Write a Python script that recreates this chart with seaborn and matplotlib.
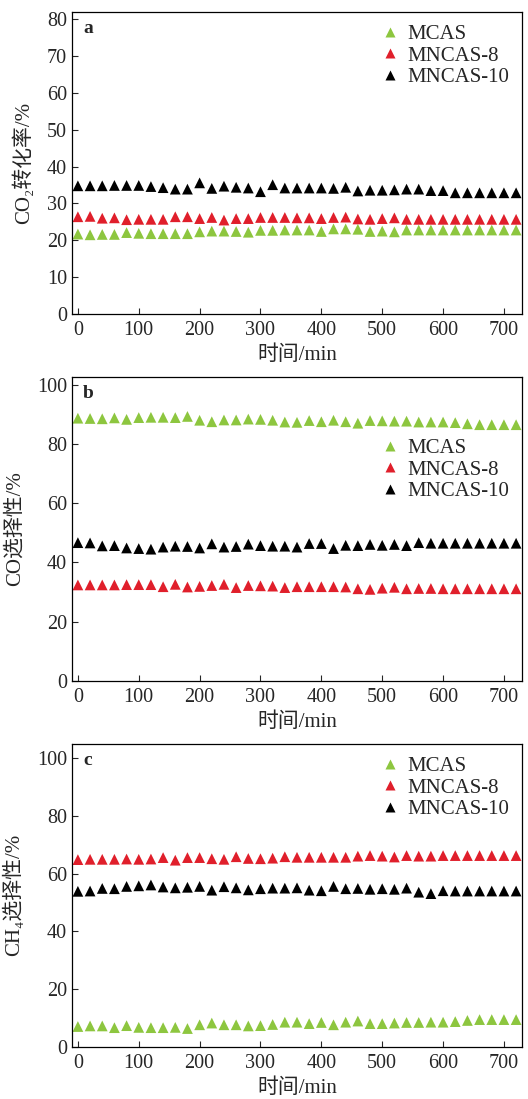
import numpy as np
import pandas as pd
import matplotlib
matplotlib.use("Agg")
import matplotlib.pyplot as plt
import seaborn as sns

# time axis (min)
time_min = list(range(0, 721, 20))

series_names = ["MCAS", "MNCAS-8", "MNCAS-10"]
palette = {"MCAS": "#8dc63f", "MNCAS-8": "#e01f2b", "MNCAS-10": "#000000"}

# (a) CO2 conversion /%
co2_mcas = [21.7, 21.5, 21.6, 21.6, 22.1, 21.9, 21.8, 21.8, 21.8, 21.8, 22.3, 22.5, 22.5,
            22.4, 22.2, 22.7, 22.7, 22.8, 22.8, 22.8, 22.4, 23.1, 23.1, 23.0, 22.4, 22.5,
            22.3, 22.8, 22.8, 22.8, 22.8, 22.8, 22.8, 22.8, 22.8, 22.8, 22.8]
co2_mncas8 = [26.4, 26.5, 26.0, 26.1, 25.6, 25.7, 25.7, 25.7, 26.4, 26.4, 25.9, 26.2, 25.5,
              25.9, 25.9, 26.2, 26.2, 26.2, 26.1, 26.1, 25.9, 26.2, 26.3, 25.8, 25.7, 25.9,
              26.1, 25.7, 25.7, 25.7, 25.7, 25.7, 25.7, 25.7, 25.7, 25.7, 25.7]
co2_mncas10 = [34.8, 34.8, 34.8, 34.9, 34.9, 34.9, 34.6, 34.3, 33.9, 33.9, 35.6, 34.1, 34.7,
               34.4, 34.2, 33.2, 35.1, 34.2, 34.2, 34.2, 34.2, 34.1, 34.4, 33.4, 33.6, 33.6,
               33.7, 33.9, 33.9, 33.5, 33.5, 32.9, 32.9, 32.9, 32.9, 32.9, 32.9]

# (b) CO selectivity /%
co_mcas = [88.8, 88.7, 88.6, 88.9, 88.4, 89.0, 89.1, 89.1, 89.0, 89.4, 88.1, 87.6, 88.2,
           88.2, 88.5, 88.4, 88.1, 87.5, 87.4, 88.0, 87.6, 88.1, 87.6, 87.1, 88.0, 87.9,
           87.8, 87.8, 87.5, 87.5, 87.5, 87.3, 86.9, 86.6, 86.6, 86.6, 86.6]
co_mncas8 = [32.4, 32.4, 32.4, 32.4, 32.5, 32.5, 32.5, 31.8, 32.6, 31.7, 31.9, 32.2, 32.6,
             31.5, 32.2, 32.1, 32.0, 31.5, 31.8, 31.8, 31.8, 31.8, 31.7, 31.1, 30.9, 31.3,
             31.6, 31.1, 31.2, 31.2, 31.1, 31.1, 31.1, 31.1, 31.1, 31.1, 31.1]
co_mncas10 = [46.7, 46.6, 45.6, 45.7, 44.9, 44.7, 44.5, 45.2, 45.5, 45.4, 44.9, 46.3, 45.2,
              45.4, 46.2, 45.7, 45.5, 45.5, 45.2, 46.4, 46.4, 44.7, 45.8, 45.7, 46.1, 45.8,
              46.1, 45.7, 46.7, 46.5, 46.5, 46.5, 46.5, 46.5, 46.5, 46.5, 46.5]

# (c) CH4 selectivity /%
ch4_mcas = [7.0, 7.2, 7.2, 6.6, 7.3, 6.7, 6.6, 6.6, 6.7, 6.3, 7.6, 8.2, 7.6,
            7.6, 7.2, 7.3, 7.7, 8.5, 8.5, 8.0, 8.4, 7.6, 8.5, 8.9, 8.0, 8.0,
            8.2, 8.4, 8.4, 8.5, 8.5, 8.7, 9.1, 9.4, 9.4, 9.4, 9.4]
ch4_mncas8 = [64.9, 65.0, 65.0, 65.0, 65.1, 65.0, 65.1, 65.6, 64.7, 65.6, 65.6, 65.2, 65.0,
              65.9, 65.3, 65.2, 65.4, 65.9, 65.7, 65.7, 65.7, 65.7, 65.7, 66.1, 66.3, 66.1,
              65.8, 66.3, 66.1, 66.1, 66.3, 66.3, 66.3, 66.3, 66.3, 66.3, 66.3]
ch4_mncas10 = [53.9, 54.0, 54.9, 54.8, 55.6, 55.8, 56.1, 55.4, 55.1, 55.3, 55.6, 54.3, 55.5,
               55.1, 54.4, 54.8, 55.0, 55.0, 55.1, 54.3, 54.1, 55.6, 54.8, 54.9, 54.6, 54.8,
               54.6, 55.0, 53.6, 53.1, 54.1, 54.0, 54.0, 54.0, 54.0, 54.0, 54.0]

panel_labels = ["a", "b", "c"]
y_labels = ["CO₂转化率/%", "CO选择性/%", "CH₄选择性/%"]
y_limits = [(0, 82), (0, 102.6), (0, 105)]
y_ticks = [np.arange(0, 81, 10), np.arange(0, 101, 20), np.arange(0, 101, 20)]
legend_anchor = [(1.0, 1.0), (1.0, 0.84), (1.0, 1.0)]

panels = [
    (co2_mcas, co2_mncas8, co2_mncas10),
    (co_mcas, co_mncas8, co_mncas10),
    (ch4_mcas, ch4_mncas8, ch4_mncas10),
]

sns.set_style("ticks")
plt.rcParams["font.family"] = ["Liberation Serif", "Noto Sans CJK SC", "DejaVu Sans"]
plt.rcParams["xtick.direction"] = "in"
plt.rcParams["ytick.direction"] = "in"

fig = plt.figure(figsize=(5.28, 10.99), dpi=100)
positions = [
    [0.136, 0.7143, 0.853, 0.2748],
    [0.136, 0.3806, 0.853, 0.2760],
    [0.136, 0.0476, 0.853, 0.2754],
]

for i, pos in enumerate(positions):
    ax = fig.add_axes(pos)
    rows = []
    for name, vals in zip(series_names, panels[i]):
        for t, v in zip(time_min, vals):
            rows.append({"time": t, "value": v, "sample": name})
    df = pd.DataFrame(rows)

    sns.scatterplot(data=df, x="time", y="value", hue="sample", hue_order=series_names,
                    palette=palette, marker="^", s=60, edgecolor="none", ax=ax)

    ax.set_xlim(-10, 730)
    ax.set_ylim(*y_limits[i])
    ax.set_xticks(np.arange(0, 701, 100))
    ax.set_yticks(y_ticks[i])
    ax.tick_params(axis="both", labelsize=14.5, length=4, width=0.8, top=False, right=False)
    ax.tick_params(axis="x", pad=5)
    for sp in ax.spines.values():
        sp.set_linewidth(0.9)
        sp.set_color("black")

    ax.set_xlabel("时间/min", fontsize=15, labelpad=4)
    ax.set_ylabel(y_labels[i], fontsize=15, labelpad=9)
    ax.text(0.025, 0.975, panel_labels[i], transform=ax.transAxes, fontsize=14,
            fontweight="bold", va="top", ha="left")

    handles, labels = ax.get_legend_handles_labels()
    ax.legend(handles, labels, loc="upper right", bbox_to_anchor=legend_anchor[i],
              frameon=False, fontsize=15, handlelength=1.0, handletextpad=0.35,
              labelspacing=0.1, borderaxespad=0.2, markerscale=1.0)

fig.savefig("out.png", dpi=100)
